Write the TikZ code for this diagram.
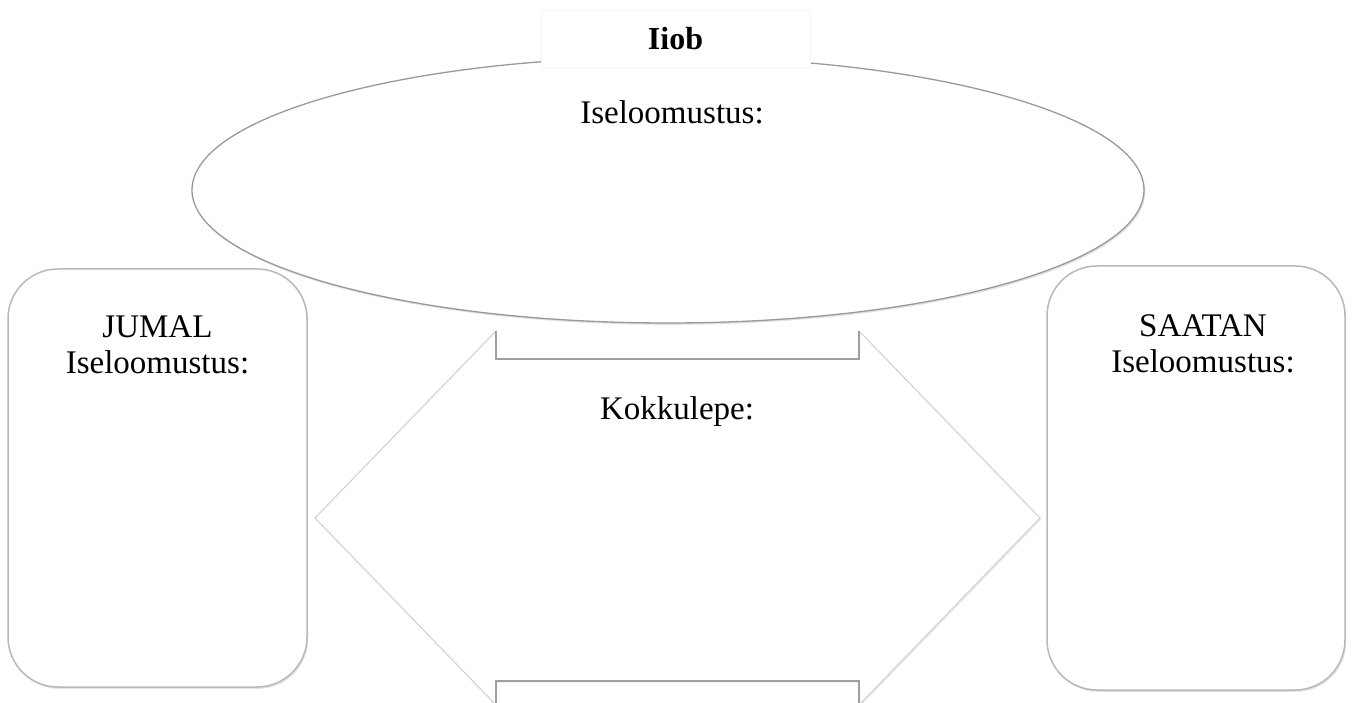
\documentclass[tikz,border=0pt]{standalone}
\usepackage{fontspec}
\setmainfont{Liberation Serif}
\usetikzlibrary{shapes.geometric,shadows}
\begin{document}
\begin{tikzpicture}[x=1pt,y=-1pt,
  outline/.style={draw=gray!80, line width=1.3pt, fill=white,
    drop shadow={shadow xshift=1.2pt, shadow yshift=-1.8pt, fill=gray!45}},
  lbl/.style={font=\fontsize{33}{36}\selectfont, align=center, inner sep=0pt},
  roundbox/.style={outline, draw=gray!55, line width=1.5pt, rounded corners=50pt, inner sep=0pt},
  lightedge/.style={draw=gray!35, line width=1.1pt},
  darkedge/.style={draw=gray!75, line width=1.3pt}]
\useasboundingbox (0,0) rectangle (1352,703);
\fill[white] (0,0) rectangle (1352,703);

% ellipse
\node[ellipse, outline, minimum width=952pt, minimum height=266pt, inner sep=0pt] (ell) at (668,190) {};
\node[lbl] (elltext) at (672,112) {Iseloomustus:};

% title box
\node[draw=gray!8, fill=white, minimum width=269pt, minimum height=57pt, inner sep=0pt, font=\fontsize{32}{36}\selectfont\bfseries] (title) at (675.5,38.5) {Iiob};

% left and right boxes
\node[roundbox, minimum width=299pt, minimum height=418pt] (jumal) at (157.5,478) {};
\node[lbl] (jumaltext) at (157.5,345) {JUMAL\\Iseloomustus:};
\node[roundbox, minimum width=298pt, minimum height=424pt] (saatan) at (1196,478) {};
\node[lbl] (saatantext) at (1203,344) {SAATAN\\Iseloomustus:};

% double arrow
\coordinate (tl) at (315,518);
\coordinate (a1) at (496,331);
\coordinate (a2) at (496,359);
\coordinate (a3) at (859,359);
\coordinate (a4) at (859,331);
\coordinate (tr) at (1040,518);
\coordinate (b4) at (859,705);
\coordinate (b3) at (859,681);
\coordinate (b2) at (496,681);
\coordinate (b1) at (496,705);
\path[fill=white, drop shadow={shadow xshift=1.2pt, shadow yshift=-1.6pt, fill=gray!30}]
  (tl) -- (a1) -- (a2) -- (a3) -- (a4) -- (tr) -- (b4) -- (b3) -- (b2) -- (b1) -- cycle;
\draw[lightedge] (b1) -- (tl) -- (a1);
\draw[lightedge] (a4) -- (tr) -- (b4);
\draw[darkedge] (a1) -- (a2) -- (a3) -- (a4);
\draw[darkedge] (b1) -- (b2) -- (b3) -- (b4);
\node[lbl] (kokku) at (677,412) {Kokkulepe:};
\end{tikzpicture}
\end{document}
